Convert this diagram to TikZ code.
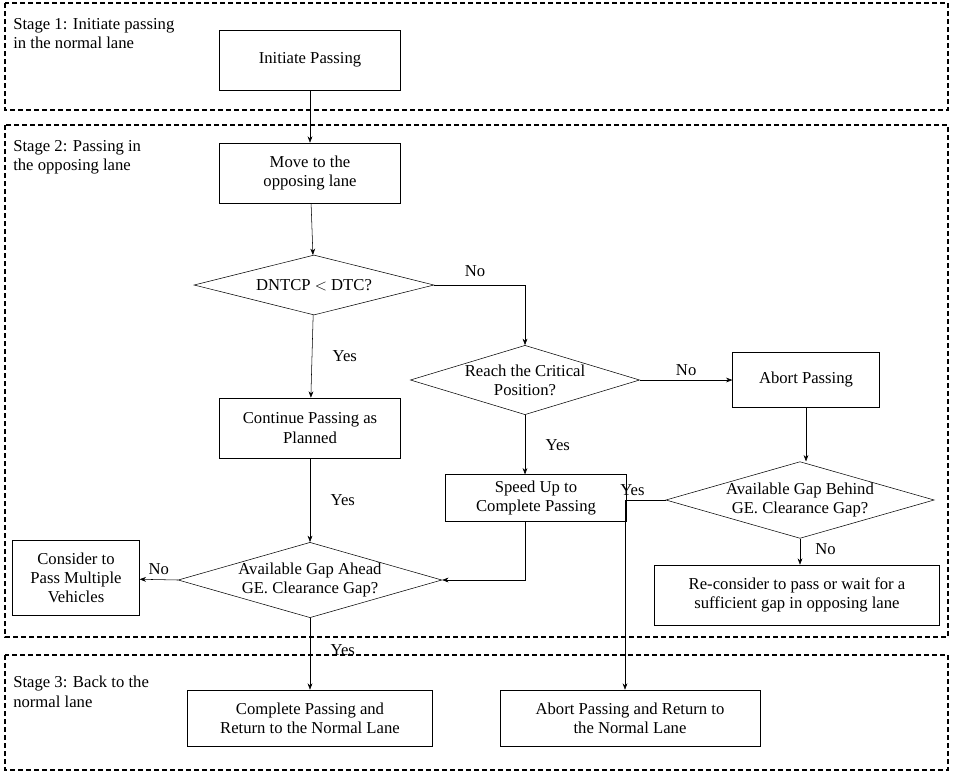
\documentclass[tikz,border=0pt]{standalone}
\usepackage{fontspec}
\setmainfont{Liberation Serif}
\usetikzlibrary{shapes.geometric,arrows.meta,positioning}

\begin{document}
\begin{tikzpicture}[%
>=Stealth,
x=0.75pt, y=-0.75pt,
every node/.style={font=\fontsize{12.5}{14.5}\selectfont},
stage/.style={draw, line width=1.6pt, dash pattern=on 3.5pt off 2.5pt},
box/.style={draw, rectangle, align=center, inner sep=2pt},
dec/.style={draw, diamond, align=center, inner sep=0pt, aspect=3.5},
lbl/.style={align=left, anchor=north west, inner sep=0pt}
]
\useasboundingbox (0,0) rectangle (953,775);

% stage frames
\draw[stage] (5,3) rectangle (948,110);
\draw[stage] (5,125) rectangle (948,637);
\draw[stage] (5,655) rectangle (948,770);
\node[lbl] (s1) at (13,18) {Stage 1: Initiate passing\\in the normal lane};
\node[lbl] (s2) at (13,140) {Stage 2: Passing in\\the opposing lane};
\node[lbl] (s3) at (13,676) {Stage 3: Back to the\\normal lane};

% nodes
\node[box, minimum width=136pt, minimum height=45pt] (init) at (310,60) {Initiate Passing};
\node[box, minimum width=136pt, minimum height=45pt] (move) at (310,173) {Move to the\\opposing lane};
\node[dec, minimum width=180pt, minimum height=45pt] (d1) at (314,285) {DNTCP $<$ DTC?};
\node[box, minimum width=136pt, minimum height=45pt] (cont) at (310,428) {Continue Passing as\\Planned};
\node[dec, minimum width=195pt, minimum height=52pt] (d3) at (310,580) {Available Gap Ahead\\GE. Clearance Gap?};
\node[box, minimum width=95pt, minimum height=56pt] (multi) at (76,578) {Consider to\\Pass Multiple\\Vehicles};
\node[box, minimum width=184pt, minimum height=42pt] (comp) at (310,718) {Complete Passing and\\Return to the Normal Lane};
\node[dec, minimum width=169pt, minimum height=52pt] (d2) at (525,380) {Reach the Critical\\Position?};
\node[box, minimum width=136pt, minimum height=35pt] (speed) at (536,498) {Speed Up to\\Complete Passing};
\node[box, minimum width=110pt, minimum height=41pt] (abort) at (806,380) {Abort Passing};
\node[dec, minimum width=195pt, minimum height=56pt] (d4) at (800,500) {Available Gap Behind\\GE. Clearance Gap?};
\node[box, minimum width=214pt, minimum height=45pt] (recon) at (797,595) {Re-consider to pass or wait for a\\sufficient gap in opposing lane};
\node[box, minimum width=195pt, minimum height=42pt] (back) at (630,718) {Abort Passing and Return to\\the Normal Lane};
\coordinate (c1) at (525,285);
\coordinate (c2) at (525,580);
\coordinate (c3) at (625,500);

% connectors
\draw[->] (init) -- (move);
\draw[->] (move) -- (d1);
\draw[->] (d1.east) -- (c1) node[pos=0.45, above=3pt] {No} -- (d2.north);
\draw[->] (d1) -- node[right=12pt] {Yes} (cont);
\draw[->] (cont) -- node[right=12pt] {Yes} (d3);
\draw[->] (d3.west) -- node[above] {No} (multi);
\draw[->] (d3) -- node[right=12pt, pos=0.45] {Yes} (comp);
\draw[->] (d2.east) -- node[above] {No} (abort);
\draw[->] (d2) -- node[right=12pt] {Yes} (speed.north -| d2);
\draw[->] (speed.south -| c2) -- (c2) -- (d3.east);
\draw[->] (abort) -- (d4.north -| abort);
\draw[->] (d4) -- node[right=8pt, pos=0.4] {No} (recon.north -| d4);
\draw[->] (d4.west) -- node[above left=0pt and -6pt, pos=0.6] {Yes} (c3) -- (back.north -| c3);

\end{tikzpicture}
\end{document}
